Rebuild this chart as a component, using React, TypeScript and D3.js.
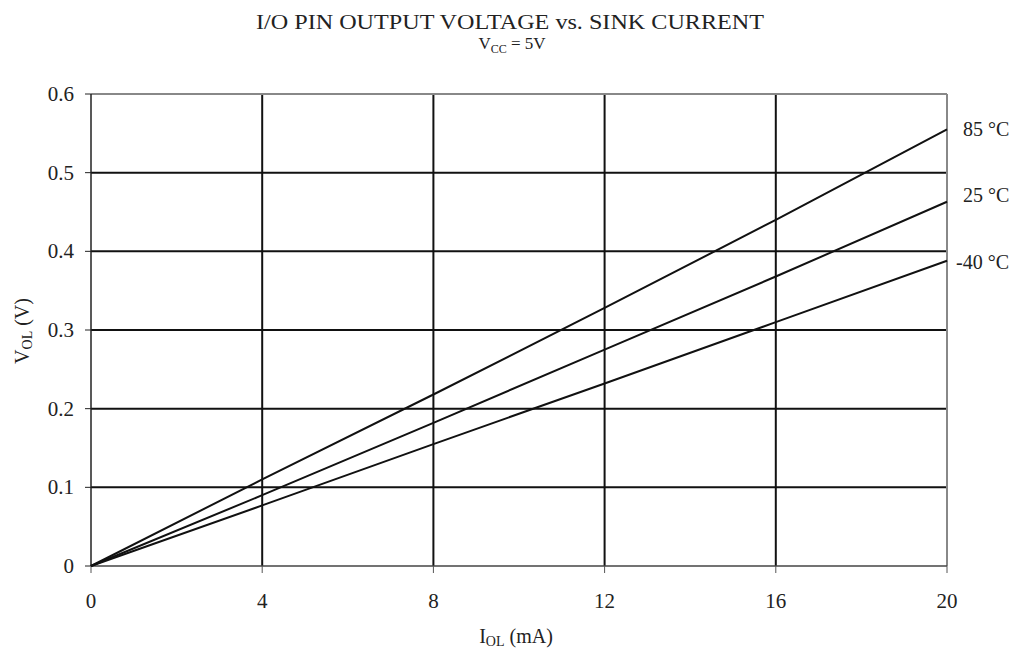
import React from "react";
import * as d3 from "d3";

const currents = [0, 4, 8, 12, 16, 20];
const v85 = [0, 0.11, 0.218, 0.328, 0.44, 0.555];
const v25 = [0, 0.09, 0.182, 0.275, 0.368, 0.463];
const vm40 = [0, 0.077, 0.155, 0.232, 0.31, 0.388];
const seriesNames = ["85 °C", "25 °C", "-40 °C"];
const xTicks = [0, 4, 8, 12, 16, 20];
const yTicks = [0, 0.1, 0.2, 0.3, 0.4, 0.5, 0.6];

export default function App() {
  const W = 1024, H = 655;
  const L = 91, R = 947, T = 94, B = 566;
  const x = d3.scaleLinear().domain([0, 20]).range([L, R]);
  const y = d3.scaleLinear().domain([0, 0.6]).range([B, T]);
  const line = d3.line<number>().x((_, i) => x(currents[i])).y((d) => y(d));
  const series = [v85, v25, vm40];
  const font = "'Liberation Serif', 'Times New Roman', serif";
  return (
    <svg width={W} height={H} style={{ position: "absolute", left: 0, top: 0 }} fontFamily={font} fill="#222">
      <rect width={W} height={H} fill="#fff" />
      <text x={256} y={29} fontSize={20} textLength={508} lengthAdjust="spacingAndGlyphs">I/O PIN OUTPUT VOLTAGE vs. SINK CURRENT</text>
      <text x={512} y={49} textAnchor="middle" fontSize={17}>
        V<tspan fontSize={12} dy={4}>CC</tspan><tspan dy={-4}> = 5V</tspan>
      </text>
      {/* grid */}
      {yTicks.filter((t) => t > 0 && t < 0.6).map((t) => (
        <line key={"gy" + t} x1={L} x2={R} y1={y(t)} y2={y(t)} stroke="#111" strokeWidth={2} />
      ))}
      {xTicks.filter((t) => t > 0 && t < 20).map((t) => (
        <line key={"gx" + t} x1={x(t)} x2={x(t)} y1={T} y2={B} stroke="#111" strokeWidth={2} />
      ))}
      {/* frame */}
      <line x1={L} x2={R} y1={T} y2={T} stroke="#888" strokeWidth={2} />
      <line x1={R} x2={R} y1={T} y2={B} stroke="#888" strokeWidth={2} />
      <line x1={L} x2={L} y1={T} y2={B} stroke="#222" strokeWidth={1.5} />
      <line x1={L} x2={R} y1={B} y2={B} stroke="#444" strokeWidth={1.5} />
      {/* ticks */}
      {yTicks.map((t) => (
        <g key={"ty" + t}>
          <line x1={L - 6} x2={L} y1={y(t)} y2={y(t)} stroke="#222" strokeWidth={1} />
          <text x={74} y={y(t) + 7} textAnchor="end" fontSize={21}>{t === 0 ? "0" : t.toFixed(1)}</text>
        </g>
      ))}
      {xTicks.map((t) => (
        <g key={"tx" + t}>
          <line x1={x(t)} x2={x(t)} y1={B} y2={B + 7} stroke="#555" strokeWidth={1} />
          <text x={x(t)} y={608} textAnchor="middle" fontSize={21}>{t}</text>
        </g>
      ))}
      {/* series */}
      {series.map((s, i) => (
        <path key={"s" + i} d={line(s) || ""} fill="none" stroke="#111" strokeWidth={2} />
      ))}
      {series.map((s, i) => (
        <text key={"l" + i} x={i === 2 ? 956 : 963} y={y(s[s.length - 1]) + [7, 0, 8][i]} fontSize={20}>{seriesNames[i]}</text>
      ))}
      {/* axis labels */}
      <text x={516} y={643} textAnchor="middle" fontSize={20}>
        I<tspan fontSize={14} dy={3}>OL</tspan><tspan dy={-3}> (mA)</tspan>
      </text>
      <text transform="translate(29,331) rotate(-90)" textAnchor="middle" fontSize={20}>
        V<tspan fontSize={14} dy={3}>OL</tspan><tspan dy={-3}> (V)</tspan>
      </text>
    </svg>
  );
}
